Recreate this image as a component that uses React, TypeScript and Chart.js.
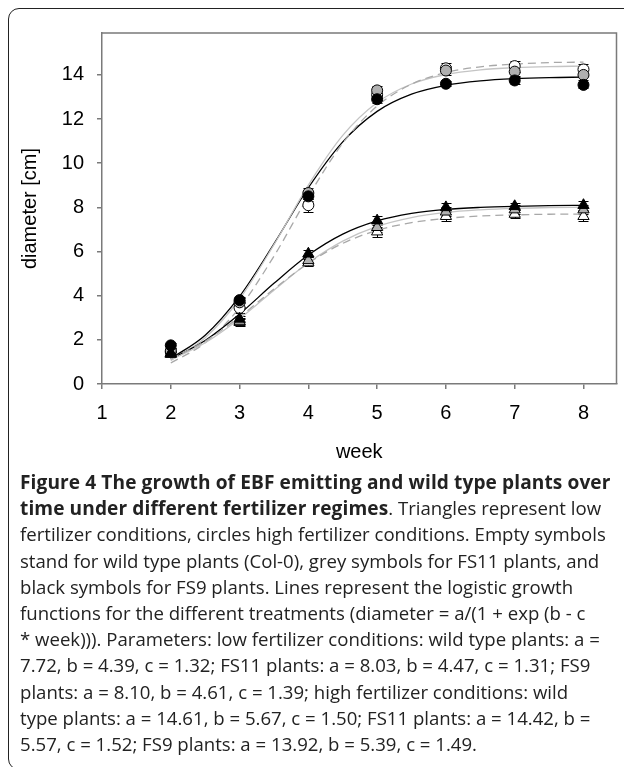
import React, { useEffect, useRef } from "react";
import Chart from "chart.js/auto";

// ---- observed data (weeks 2..8) ----
const weeks = [2, 3, 4, 5, 6, 7, 8];
const lowWT = [1.35, 2.8, 5.5, 6.9, 7.6, 7.7, 7.6];
const lowFS11 = [1.4, 2.85, 5.6, 7.1, 7.8, 7.9, 7.9];
const lowFS9 = [1.4, 2.95, 5.9, 7.4, 8.0, 8.05, 8.1];
const highWT = [1.45, 3.45, 8.1, 13.1, 14.3, 14.4, 14.25];
const highFS11 = [1.5, 3.7, 8.65, 13.3, 14.2, 14.15, 14.0];
const highFS9 = [1.75, 3.8, 8.5, 12.9, 13.6, 13.75, 13.55];

const lowWTErr = [0.1, 0.15, 0.15, 0.22, 0.22, 0.2, 0.22];
const lowFS11Err = [0.1, 0.12, 0.15, 0.2, 0.2, 0.2, 0.2];
const lowFS9Err = [0.1, 0.12, 0.15, 0.2, 0.2, 0.15, 0.2];
const highWTErr = [0.12, 0.25, 0.3, 0.22, 0.22, 0.25, 0.25];
const highFS11Err = [0.12, 0.2, 0.25, 0.2, 0.2, 0.2, 0.22];
const highFS9Err = [0.12, 0.15, 0.2, 0.15, 0.12, 0.15, 0.15];

// ---- fitted logistic curves, read at half-week steps ----
const fitWeeks = [2, 2.5, 3, 3.5, 4, 4.5, 5, 5.5, 6, 6.5, 7, 7.5, 8];
const fitLowWT = [1.14, 1.94, 3.04, 4.3, 5.47, 6.37, 6.96, 7.31, 7.5, 7.61, 7.66, 7.69, 7.7];
const fitLowFS11 = [1.09, 1.87, 2.96, 4.25, 5.49, 6.47, 7.14, 7.54, 7.77, 7.89, 7.96, 7.99, 8.01];
const fitLowFS9 = [1.12, 1.97, 3.17, 4.56, 5.84, 6.79, 7.39, 7.73, 7.91, 8.0, 8.05, 8.08, 8.09];
const fitHighWT = [0.95, 1.87, 3.46, 5.79, 8.5, 10.91, 12.59, 13.58, 14.11, 14.37, 14.49, 14.56, 14.58];
const fitHighFS11 = [1.06, 2.1, 3.85, 6.31, 9.01, 11.26, 12.75, 13.59, 14.02, 14.23, 14.33, 14.38, 14.4];
const fitHighFS9 = [1.15, 2.21, 3.97, 6.35, 8.89, 10.97, 12.35, 13.13, 13.53, 13.73, 13.83, 13.88, 13.9];

const xTicks = [1, 2, 3, 4, 5, 6, 7, 8];
const yTicks = [0, 2, 4, 6, 8, 10, 12, 14];

const captionBold1 = "Figure 4 The growth of EBF emitting and wild type plants over";
const captionBold2 = "time under different fertilizer regimes";
const captionLines = [
  "fertilizer conditions, circles high fertilizer conditions. Empty symbols",
  "stand for wild type plants (Col-0), grey symbols for FS11 plants, and",
  "black symbols for FS9 plants. Lines represent the logistic growth",
  "functions for the different treatments (diameter = a/(1 + exp (b - c",
  "* week))). Parameters: low fertilizer conditions: wild type plants: a =",
  "7.72, b = 4.39, c = 1.32; FS11 plants: a = 8.03, b = 4.47, c = 1.31; FS9",
  "plants: a = 8.10, b = 4.61, c = 1.39; high fertilizer conditions: wild",
  "type plants: a = 14.61, b = 5.67, c = 1.50; FS11 plants: a = 14.42, b =",
  "5.57, c = 1.52; FS9 plants: a = 13.92, b = 5.39, c = 1.49.",
];

const pts = (ys: number[]) => ys.map((y, i) => ({ x: weeks[i], y }));
const fit = (ys: number[]) => ys.map((y, i) => ({ x: fitWeeks[i], y }));

const errorBars = {
  id: "errorBars",
  beforeDatasetsDraw(chart: any) {
    const { ctx, chartArea, scales } = chart;
    const x = scales.x, y = scales.y;
    ctx.save();
    ctx.strokeStyle = "#7a7a7a";
    ctx.lineWidth = 1.5;
    ctx.beginPath();
    ctx.moveTo(chartArea.left, chartArea.top);
    ctx.lineTo(chartArea.right, chartArea.top);
    ctx.lineTo(chartArea.right, chartArea.bottom);
    ctx.stroke();
    ctx.strokeStyle = "#000";
    ctx.lineWidth = 1;
    chart.data.datasets.forEach((ds: any) => {
      if (!ds.errors) return;
      ds.data.forEach((p: any, j: number) => {
        const e = ds.errors[j];
        const px = Math.round(x.getPixelForValue(p.x)) + 0.5;
        const yt = Math.round(y.getPixelForValue(p.y + e)) + 0.5;
        const yb = Math.round(y.getPixelForValue(p.y - e)) + 0.5;
        ctx.beginPath();
        ctx.moveTo(px, yt);
        ctx.lineTo(px, yb);
        ctx.moveTo(px - 5, yt);
        ctx.lineTo(px + 5, yt);
        ctx.moveTo(px - 5, yb);
        ctx.lineTo(px + 5, yb);
        ctx.stroke();
      });
    });
    ctx.restore();
  },
};

const WT_LINE = "#a8a8a8";
const FS11_LINE = "#c4c4c4";
const FS9_LINE = "#000000";
const WT_FILL = "#ffffff";
const FS11_FILL = "#b0b0b0";
const FS9_FILL = "#000000";

export default function App() {
  const ref = useRef<HTMLCanvasElement | null>(null);
  useEffect(() => {
    if (!ref.current) return;
    const lineDs = (data: number[], color: string, dash: number[]) => ({
      type: "line",
      data: fit(data),
      showLine: true,
      borderColor: color,
      borderWidth: 1.3,
      borderDash: dash,
      pointRadius: 0,
      cubicInterpolationMode: "monotone",
      fill: false,
      order: 10,
    });
    const ptDs = (data: number[], err: number[], style: string, fillC: string, r: number, order: number) => ({
      type: "scatter",
      data: pts(data),
      errors: err,
      pointStyle: style,
      pointRadius: r,
      backgroundColor: fillC,
      borderColor: "#000",
      borderWidth: 1,
      order,
    });
    const chart = new Chart(ref.current, {
      type: "scatter",
      data: {
        datasets: [
          lineDs(fitLowWT, WT_LINE, [8, 5]),
          lineDs(fitLowFS11, FS11_LINE, []),
          lineDs(fitLowFS9, FS9_LINE, []),
          lineDs(fitHighWT, WT_LINE, [8, 5]),
          lineDs(fitHighFS11, FS11_LINE, []),
          lineDs(fitHighFS9, FS9_LINE, []),
          ptDs(lowWT, lowWTErr, "triangle", WT_FILL, 6.5, 3),
          ptDs(lowFS11, lowFS11Err, "triangle", FS11_FILL, 6.5, 2),
          ptDs(lowFS9, lowFS9Err, "triangle", FS9_FILL, 6.5, 1),
          ptDs(highWT, highWTErr, "circle", WT_FILL, 5.5, 3),
          ptDs(highFS11, highFS11Err, "circle", FS11_FILL, 5.5, 2),
          ptDs(highFS9, highFS9Err, "circle", FS9_FILL, 5.5, 1),
        ] as any,
      },
      options: {
        animation: false,
        responsive: false,
        maintainAspectRatio: false,
        layout: { padding: { top: 17, right: 5, left: 0, bottom: 0 } },
        plugins: { legend: { display: false }, tooltip: { enabled: false } },
        scales: {
          x: {
            type: "linear",
            min: 1,
            max: 8.48,
            afterFit: (s: any) => { s.height = 94; },
            afterBuildTicks: (s: any) => { s.ticks = xTicks.map((v) => ({ value: v })); },
            ticks: { color: "#000", font: { family: "Liberation Sans, Arial", size: 20 }, padding: 12, autoSkip: false, maxRotation: 0 },
            grid: { drawOnChartArea: false, drawTicks: true, tickLength: 5, color: "#7a7a7a", lineWidth: 1.5 },
            border: { color: "#7a7a7a", width: 1.5 },
            title: { display: true, text: "week", color: "#000", font: { family: "Liberation Sans, Arial", size: 20 }, padding: { top: 0, bottom: 14 } },
          },
          y: {
            type: "linear",
            min: 0,
            max: 15.9,
            afterFit: (s: any) => { s.width = 94; },
            afterBuildTicks: (s: any) => { s.ticks = yTicks.map((v) => ({ value: v })); },
            ticks: { color: "#000", font: { family: "Liberation Sans, Arial", size: 20 }, padding: 13 },
            grid: { drawOnChartArea: false, drawTicks: true, tickLength: 5, color: "#7a7a7a", lineWidth: 1.5 },
            border: { color: "#7a7a7a", width: 1.5 },
            title: { display: true, text: "diameter [cm]", color: "#000", font: { family: "Liberation Sans, Arial", size: 20 }, padding: { top: 10, bottom: 0 } },
          },
        },
      } as any,
      plugins: [errorBars],
    });
    return () => chart.destroy();
  }, []);

  const capFont = "'Open Sans', sans-serif";
  return (
    <div style={{ position: "fixed", left: 0, top: 0, width: 624, height: 767, overflow: "hidden", background: "#fff" }}>
      <div
        style={{
          position: "absolute",
          left: 8,
          top: 8,
          width: 630,
          height: 762,
          border: "1.5px solid #222",
          borderRadius: 11,
          boxSizing: "border-box",
        }}
      />
      <canvas ref={ref} width={616} height={470} style={{ position: "absolute", left: 8, top: 8, width: 616, height: 470 }} />
      <div style={{ position: "absolute", left: 20, top: 469, fontFamily: capFont, fontSize: 18.6, lineHeight: "26.2px", color: "#222", whiteSpace: "nowrap" }}>
        <div style={{ fontWeight: 700, fontSize: 19.1, letterSpacing: "0.1px" }}>{captionBold1}</div>
        <div>
          <span style={{ fontWeight: 700, fontSize: 19.1, letterSpacing: "0.1px" }}>{captionBold2}</span>. Triangles represent low
        </div>
        {captionLines.map((l, i) => (
          <div key={i}>{l}</div>
        ))}
      </div>
    </div>
  );
}
